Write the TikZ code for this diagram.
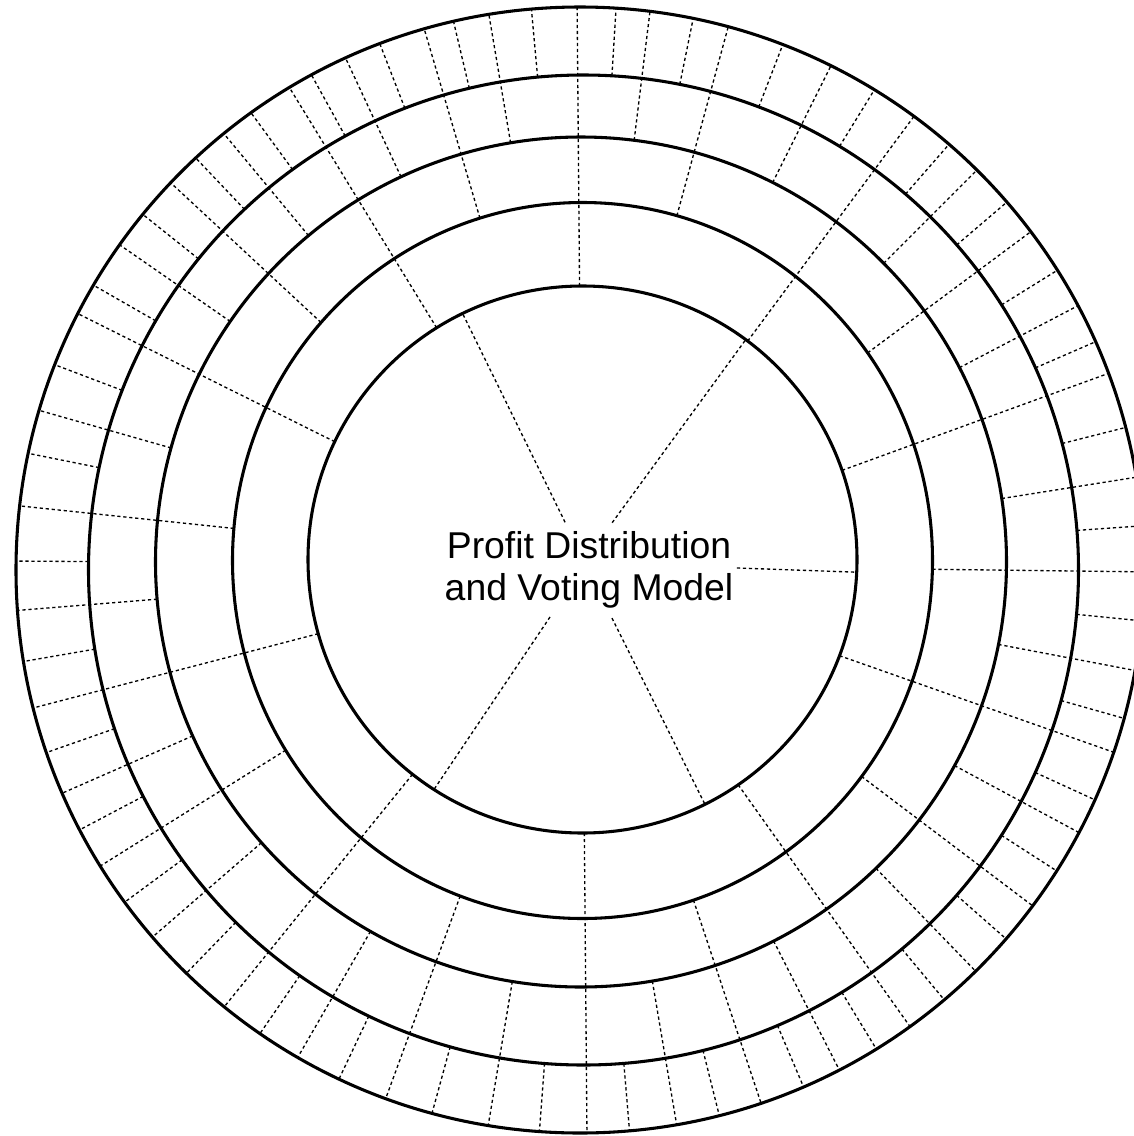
\documentclass[tikz,border=0pt]{standalone}
\usepackage{fontspec}
\setsansfont{Liberation Sans}
\usetikzlibrary{calc}

\newcommand{\ringpoint}[3]{%
  \pgfmathsetmacro{\rgcx}{{582.5,582.5,581,583.5,580}[#2-1]}%
  \pgfmathsetmacro{\rgcy}{{559.5,560.5,562,570,570}[#2-1]}%
  \pgfmathsetmacro{\rgrx}{{274.5,350,425.5,495,564}[#2-1]}%
  \pgfmathsetmacro{\rgry}{{273.5,358,425,495,563}[#2-1]}%
  \pgfmathsetmacro{\rgrx}{\rgrx/10}%
  \pgfmathsetmacro{\rgry}{\rgry/10}%
  \pgfmathsetmacro{\rgt}{\rgrx*(\rgry/sqrt((\rgry*cos(#1))^2+(\rgrx*sin(#1))^2))*10+(\rgcx-582)*cos(#1)-(\rgcy-565)*sin(#1)}%
  \coordinate (#3) at ({582+\rgt*cos(#1)},{565-\rgt*sin(#1)});%
}
\newcommand{\hubpoint}[3]{%
  \coordinate (#3) at ({582+#2*cos(#1)},{565-#2*sin(#1)});%
}

\begin{document}
\begin{tikzpicture}[x=0.75pt, y=-0.75pt,
    ring/.style={line width=2.3pt, black},
    divider/.style={line width=1pt, black, dash pattern=on 2.4pt off 2.1pt},
    title/.style={font=\sffamily\fontsize{28}{31.5}\selectfont, align=center, inner sep=0pt},
]
\useasboundingbox (0,0) rectangle (1134,1136);

\foreach \ang/\k in {-0.7/2, 4/4, 9/3, 14.2/4, 20/1, 23.5/4, 27.6/3, 31.8/4,
    36.6/2, 40.5/4, 45/3, 48.9/4, 53.5/1, 58.4/4, 63.5/3, 68.9/4,
    74.8/2, 78.5/4, 83/3, 86.5/4, 90.5/1, 95.2/4, 99.6/3, 103.3/4,
    106.4/2, 111.2/4, 115/3, 118.9/4, 121.5/1, 126.2/4, 129.7/3, 133.5/4,
    137.1/2, 141.4/4, 145.3/3, 150.2/4, 153.5/1, 159.2/4, 164.1/3, 168.6/4,
    174/2, 179.6/4, 184.6/3, 189.8/4, 194.6/1, 199.3/4, 203.7/3, 207.8/4,
    212/2, 216.4/4, 220.9/3, 225.9/4, 231/1, 235.5/4, 240/3, 244.7/4,
    249.8/2, 254.7/4, 260.5/3, 265.7/4, 270.5/1, 274.8/4, 279.6/3, 284/4,
    288.4/2, 293/4, 297/3, 301.3/4, 305.4/1, 309.8/4, 314.1/3, 318.6/4,
    322.9/2, 327.2/4, 331.7/3, 335.4/4, 340.6/1, 344.2/4, 349.2/3, 354.3/4} {
  \ringpoint{\ang}{\k}{from}
  \ringpoint{\ang}{5}{to}
  \draw[divider] (from) -- (to);
}

\foreach \sa/\sr/\ea in {54.5/52/54, 111.6/46/115.4, 238.4/61/236.6,
    299.5/61/297.2, 358.9/155/358.5} {
  \hubpoint{\sa}{\sr}{from}
  \ringpoint{\ea}{1}{to}
  \draw[divider] (from) -- (to);
}

\draw[ring] (582.5,559.5) ellipse [x radius=274.5, y radius=273.5];
\draw[ring] (582.5,560.5) ellipse [x radius=350, y radius=358];
\draw[ring] (581,562) ellipse [x radius=425.5, y radius=425];
\draw[ring] (583.5,570) ellipse [x radius=495, y radius=495];
\draw[ring] (580,570) ellipse [x radius=564, y radius=563];

\node[title] (model) at (589,570) {Profit Distribution\\and Voting Model};
\end{tikzpicture}
\end{document}
